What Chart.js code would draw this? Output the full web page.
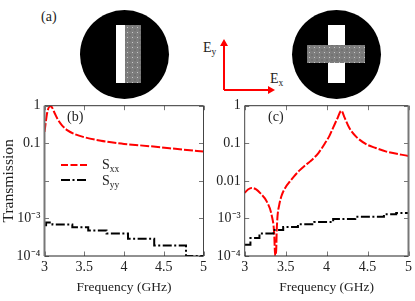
<!DOCTYPE html>
<html><head><meta charset="utf-8">
<script src="https://cdn.jsdelivr.net/npm/chart.js@4"></script>
<style>
html,body{margin:0;padding:0;background:#fff;width:415px;height:301px;overflow:hidden}
body{position:relative;font-family:"Liberation Serif",serif;color:#222}
.abs{position:absolute}
canvas.c{position:absolute}
.t{position:absolute;white-space:nowrap;line-height:1;font-size:14px}
.t sub{font-size:9.5px;vertical-align:baseline;position:relative;top:3px;line-height:0}
.circle{position:absolute;background:#000;border-radius:50%}
.white{position:absolute;background:#fff}
.gray{position:absolute;background-color:#7d7d7d;
 background-image:radial-gradient(circle,#c8c8c8 0.6px,transparent 1px),radial-gradient(circle,#505050 0.7px,transparent 1px);
 background-size:5px 5px,5px 5px;background-position:0 0,2.5px 2.5px}
</style></head><body>
<div class="circle" style="left:80px;top:9.5px;width:89px;height:89px"></div>
<div class="white" style="left:116.3px;top:25.3px;width:8.4px;height:57.4px"></div>
<div class="gray" style="left:124.7px;top:25.3px;width:16.6px;height:57.4px"></div>
<div class="circle" style="left:292px;top:9.5px;width:88.6px;height:89px"></div>
<div class="white" style="left:328.3px;top:25.3px;width:16.7px;height:57.4px"></div>
<div class="gray" style="left:307.3px;top:45.3px;width:57.7px;height:17.4px"></div>
<svg class="abs" style="left:0;top:0;z-index:3" width="415" height="301">
 <path d="M224 90V44M224 90H270" fill="none" stroke="#f00" stroke-width="2"/>
 <path d="M224 39L220 46H228ZM275 90L268 86V94Z" fill="#f00"/>
 <line x1="61" x2="87" y1="165" y2="165" stroke="#f00" stroke-width="2" stroke-dasharray="7 2.5"/>
 <line x1="61" x2="87" y1="180" y2="180" stroke="#000" stroke-width="2" stroke-dasharray="9 2.5 2 2.5"/>
</svg>
<div class="t" style="left:41px;top:10px;">(a)</div>
<div class="t" style="left:67px;top:110px;z-index:3">(b)</div>
<div class="t" style="left:268px;top:110px;z-index:3">(c)</div>
<div class="t" style="left:203px;top:41px;">E<sub>y</sub></div>
<div class="t" style="left:270px;top:72px;">E<sub>x</sub></div>
<div class="t" style="left:102px;top:158px;z-index:3">S<sub>xx</sub></div>
<div class="t" style="left:102px;top:174px;z-index:3">S<sub>yy</sub></div>
<canvas class="c" id="left" style="left:0;top:90px"></canvas>
<canvas class="c" id="right" style="left:210px;top:90px"></canvas>
<script>
// Shared axis labels
const xTicks = [3, 3.5, 4, 4.5, 5];
const yTicks = [1, 0.1, 0.01, 0.001, 0.0001];
const yLabelsB = ["1", "0.1", "", "10⁻³", "10⁻⁴"];
const yLabelsC = ["1", "0.1", "0.01", "10⁻³", "10⁻⁴"];
const seriesNames = ["Sxx", "Syy"];
const xTitle = "Frequency (GHz)";
const yTitle = "Transmission";

// Panel (b)
const bSxxFreq = [3.0, 3.035, 3.07, 3.09, 3.13, 3.17, 3.22, 3.29, 3.38, 3.5, 3.71, 3.93, 4.0, 4.34, 4.75, 5.0];
const bSxxVals = [0.2, 0.67, 0.97, 0.93, 0.62, 0.42, 0.3, 0.22, 0.175, 0.145, 0.117, 0.1, 0.096, 0.083, 0.0675, 0.06];
const bSyyFreq = [3.0, 3.02, 3.1, 3.35, 3.55, 3.78, 4.05, 4.38, 4.78, 5.0];
const bSyyVals = [0.00066, 0.00078, 0.00069, 0.00058, 0.00048, 0.0004, 0.00029, 0.00019, 0.0001, 0.0001];

// Panel (c)
const cSxxFreq = [3.0, 3.04, 3.085, 3.14, 3.19, 3.27, 3.33, 3.36, 3.372, 3.385, 3.39, 3.4, 3.42, 3.45, 3.5, 3.55, 3.6, 3.67, 3.73, 3.8, 3.9, 3.98, 4.03, 4.08, 4.13, 4.18, 4.22, 4.28, 4.36, 4.49, 4.6, 4.73, 5.0];
const cSxxVals = [0.0048, 0.0059, 0.0065, 0.0059, 0.0047, 0.0028, 0.0012, 0.0004, 0.0001, 0.00015, 0.0004, 0.0011, 0.0022, 0.004, 0.0068, 0.0095, 0.013, 0.019, 0.025, 0.033, 0.055, 0.1, 0.15, 0.26, 0.45, 0.74, 0.48, 0.25, 0.15, 0.093, 0.075, 0.06, 0.046];
const cSyyFreq = [3.0, 3.07, 3.18, 3.35, 3.47, 3.65, 3.85, 4.08, 4.35, 4.7, 4.85, 5.0];
const cSyyVals = [0.0002, 0.0003, 0.0004, 0.00049, 0.00059, 0.0007, 0.0008, 0.00097, 0.0011, 0.0013, 0.0014, 0.0014];

const font = {family: '"Liberation Serif"', size: 14};
const TXT = '#222';

const frame = {
  id: 'frame',
  afterDatasetsDraw(ch, a, o) {
    const {ctx, chartArea: r, scales: {x, y}} = ch;
    ctx.save();
    ctx.strokeStyle = '#777'; ctx.lineWidth = 1;
    ctx.beginPath();
    const L = 4.5;
    xTicks.forEach(v => { const p = Math.round(x.getPixelForValue(v)) + .5;
      ctx.moveTo(p, r.bottom); ctx.lineTo(p, r.bottom - L);
      ctx.moveTo(p, r.top); ctx.lineTo(p, r.top + L); });
    yTicks.forEach(v => { const p = Math.round(y.getPixelForValue(v)) + .5;
      ctx.moveTo(r.left, p); ctx.lineTo(r.left + L, p);
      ctx.moveTo(r.right, p); ctx.lineTo(r.right - L, p); });
    ctx.stroke();
    const seg = (c, w, x1, y1, x2, y2) => { ctx.strokeStyle = c; ctx.lineWidth = w;
      ctx.beginPath(); ctx.moveTo(x1, y1); ctx.lineTo(x2, y2); ctx.stroke(); };
    seg('#333', 1, r.left, r.top, r.right, r.top);
    seg('#222', 1, r.left, r.bottom, r.right, r.bottom);
    seg(o.leftColor, o.leftWidth, r.left, r.top, r.left, r.bottom);
    seg(o.rightColor, o.rightWidth, r.right, r.top, r.right, r.bottom);
    ctx.restore();
  }
};

function makeChart(id, w, plotLeft, plotRight, freqA, valsA, freqB, valsB, labels, showYTitle, fr) {
  const el = document.getElementById(id);
  el.width = w; el.height = 211;
  el.style.width = w + 'px'; el.style.height = '211px';
  const pts = (f, v) => f.map((q, i) => ({x: q, y: v[i]}));
  new Chart(el, {
    type: 'line',
    plugins: [frame],
    data: {datasets: [
      {label: seriesNames[1], data: pts(freqB, valsB), borderColor: '#000', borderWidth: 2,
       borderDash: [9, 2.5, 2, 2.5], pointRadius: 0, stepped: 'before', tension: 0},
      {label: seriesNames[0], data: pts(freqA, valsA), borderColor: '#f00', borderWidth: 2,
       borderDash: [9, 2], pointRadius: 0, cubicInterpolationMode: 'monotone'}
    ]},
    options: {
      responsive: false, animation: false, events: [],
      layout: {padding: {left: 0, right: w - plotRight, top: 15.7, bottom: 0}},
      plugins: {legend: {display: false}, tooltip: {enabled: false}, frame: fr},
      scales: {
        x: {type: 'linear', min: 3, max: 5,
          afterBuildTicks: s => { s.ticks = xTicks.map(v => ({value: v})); },
          afterFit: s => { s.height = 45; },
          ticks: {font, color: TXT, padding: 3, maxRotation: 0, autoSkip: false, callback: v => String(v)},
          grid: {display: false, drawTicks: false, tickLength: 0}, border: {display: false},
          title: {display: true, text: xTitle, color: TXT, font: {family: font.family, size: 13.5}, padding: {top: 0, bottom: 5}}},
        y: {type: 'logarithmic', min: 1e-4, max: 1,
          afterBuildTicks: s => { s.ticks = yTicks.map(v => ({value: v})); },
          afterFit: s => { s.width = plotLeft; },
          ticks: {font, color: TXT, padding: 4, autoSkip: false,
            callback: v => { const i = yTicks.findIndex(t => Math.abs(t - v) < t * 1e-6); return i < 0 ? '' : labels[i]; }},
          grid: {display: false, drawTicks: false, tickLength: 0}, border: {display: false},
          title: {display: showYTitle, text: yTitle, color: TXT, font: {family: font.family, size: 15.6}, padding: {top: 0, bottom: 0}}}
      }
    }
  });
}
makeChart('left', 210, 44.5, 207, bSxxFreq, bSxxVals, bSyyFreq, bSyyVals, yLabelsB, true,
  {leftColor: '#777', leftWidth: 2, rightColor: '#444', rightWidth: 1});
makeChart('right', 205, 34.7, 198.5, cSxxFreq, cSxxVals, cSyyFreq, cSyyVals, yLabelsC, false,
  {leftColor: '#444', leftWidth: 1, rightColor: '#777', rightWidth: 2});
</script>
</body></html>
